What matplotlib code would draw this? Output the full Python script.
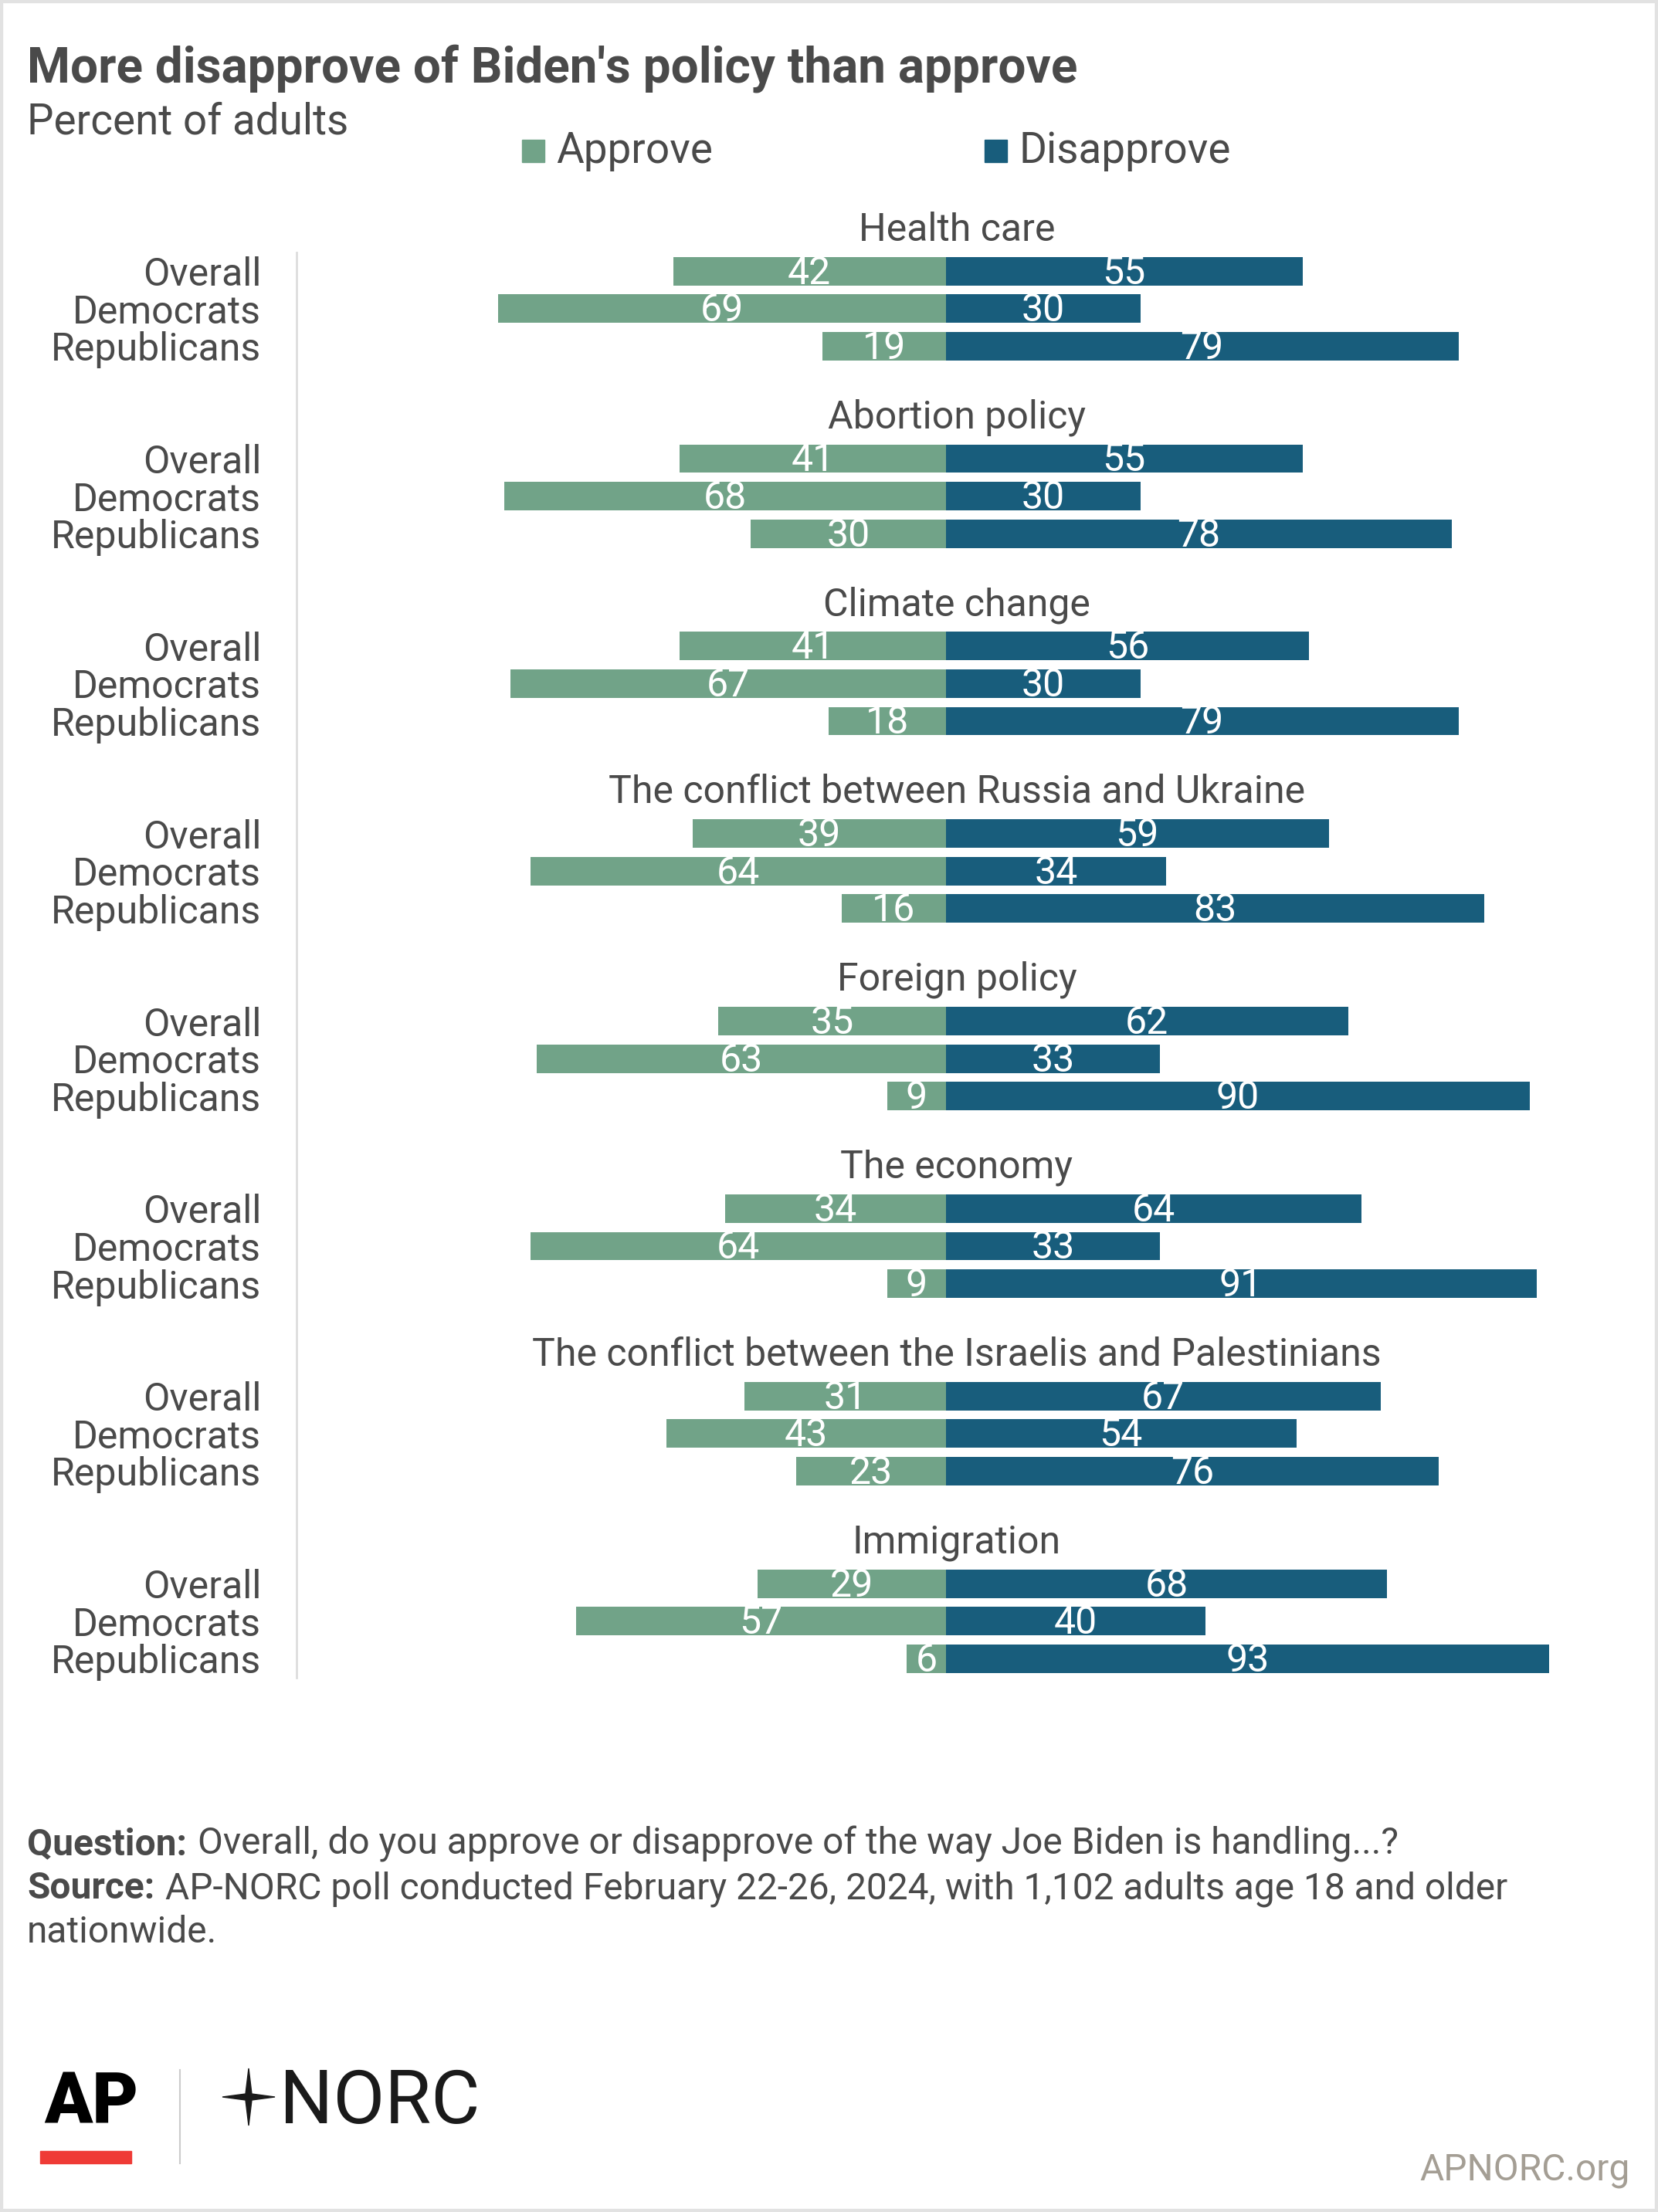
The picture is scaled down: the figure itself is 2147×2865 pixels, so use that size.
import matplotlib
matplotlib.use("Agg")
import matplotlib.pyplot as plt
from matplotlib.patches import Rectangle, Polygon
from matplotlib.lines import Line2D

plt.rcParams["font.family"] = ["Roboto", "DejaVu Sans"]

topics = ["Health care", "Abortion policy", "Climate change",
          "The conflict between Russia and Ukraine", "Foreign policy",
          "The economy", "The conflict between the Israelis and Palestinians",
          "Immigration"]
groups = ["Overall", "Democrats", "Republicans"]

# rows: topic x group
approve = [[42, 69, 19], [41, 68, 30], [41, 67, 18], [39, 64, 16],
           [35, 63, 9], [34, 64, 9], [31, 43, 23], [29, 57, 6]]
disapprove = [[55, 30, 79], [55, 30, 78], [56, 30, 79], [59, 34, 83],
              [62, 33, 90], [64, 33, 91], [67, 54, 76], [68, 40, 93]]

GREEN = "#71a388"
BLUE = "#185d7c"
TEXT = "#4a4a4a"

W, H = 2147, 2865
fig = plt.figure(figsize=(W / 100, H / 100), dpi=100)
fig.patch.set_facecolor("white")

# overlay in pixel coords for the furniture
bg = fig.add_axes([0, 0, 1, 1], zorder=0)
bg.set_xlim(0, W)
bg.set_ylim(H, 0)
bg.axis("off")
bg.add_patch(Rectangle((0, 0), W, H, fill=False, edgecolor="#e2e2e2", linewidth=6))

bg.text(35, 106, "More disapprove of Biden's policy than approve", fontsize=46,
        fontweight="bold", color=TEXT, va="baseline", ha="left")
bg.text(35, 174, "Percent of adults", fontsize=39.5, color=TEXT, va="baseline", ha="left")

# legend
bg.add_patch(Rectangle((676, 181), 29, 29, color=GREEN))
bg.text(720, 196, "Approve", fontsize=39.5, color=TEXT, va="center", ha="left")
bg.add_patch(Rectangle((1275, 181), 29, 29, color=BLUE))
bg.text(1319, 196, "Disapprove", fontsize=39.5, color=TEXT, va="center", ha="left")

# chart
ax = fig.add_axes([0.1789, 0.2417, 0.783, 0.6442], zorder=1)
ax.patch.set_alpha(0)
step = 5
bar_h = 0.76
ypos, ylabels = [], []
for i, topic in enumerate(topics):
    for j, g in enumerate(groups):
        y = i * step + j
        a = approve[i][j]
        d = disapprove[i][j]
        ax.barh(y, -a, height=bar_h, color=GREEN, edgecolor="none")
        ax.barh(y, d, height=bar_h, color=BLUE, edgecolor="none")
        ax.text(-a / 2, y + 0.05, str(a), color="white", fontsize=36, ha="center", va="center")
        ax.text(d / 2, y + 0.05, str(d), color="white", fontsize=36, ha="center", va="center")
        ypos.append(y)
        ylabels.append(g)
    ax.text(1.7, i * step - 1.1, topic, fontsize=36, color=TEXT, ha="center",
            va="center", clip_on=False)

ax.set_xlim(-100, 100)
ax.set_ylim(len(topics) * step - 2.5, -0.5)
ax.set_yticks(ypos)
ax.set_yticklabels(ylabels, fontsize=36, color=TEXT)
ax.tick_params(axis="y", length=0, pad=33)
ax.set_xticks([])
for s in ["top", "right", "bottom"]:
    ax.spines[s].set_visible(False)
ax.spines["left"].set_color("#dddddd")
ax.spines["left"].set_linewidth(2)

# footer notes
bg.text(35, 2402, "Question:", fontsize=34.5, fontweight="bold", color=TEXT, va="baseline")
bg.text(256, 2402, "Overall, do you approve or disapprove of the way Joe Biden is handling...?",
        fontsize=34.5, color=TEXT, va="baseline")
bg.text(35, 2459, "Source:", fontsize=34.5, fontweight="bold", color=TEXT, va="baseline")
bg.text(214, 2459, "AP-NORC poll conducted February 22-26, 2024, with 1,102 adults age 18 and older",
        fontsize=34.5, color=TEXT, va="baseline")
bg.text(35, 2516, "nationwide.", fontsize=34.5, color=TEXT, va="baseline")

# logos
bg.text(57, 2750, "AP", fontsize=66, fontweight="black", color="black", va="baseline", ha="left")
bg.add_patch(Rectangle((52, 2786), 118, 16, color="#ef3b36"))
bg.add_line(Line2D([233, 233], [2681, 2802], color="#cccccc", linewidth=1.5))
cx, cy = 322, 2716
star = [(cx, cy - 37), (cx + 4, cy - 4), (cx + 34, cy), (cx + 4, cy + 4),
        (cx, cy + 37), (cx - 4, cy + 4), (cx - 34, cy), (cx - 4, cy - 4)]
bg.add_patch(Polygon(star, closed=True, color="#1a1a1a"))
bg.text(362, 2750, "NORC", fontsize=70, color="#1a1a1a", va="baseline", ha="left")
bg.text(2111, 2823, "APNORC.org", fontsize=34.5, color="#a49e94", va="baseline", ha="right")

fig.savefig("out.png", dpi=100, facecolor="white")
